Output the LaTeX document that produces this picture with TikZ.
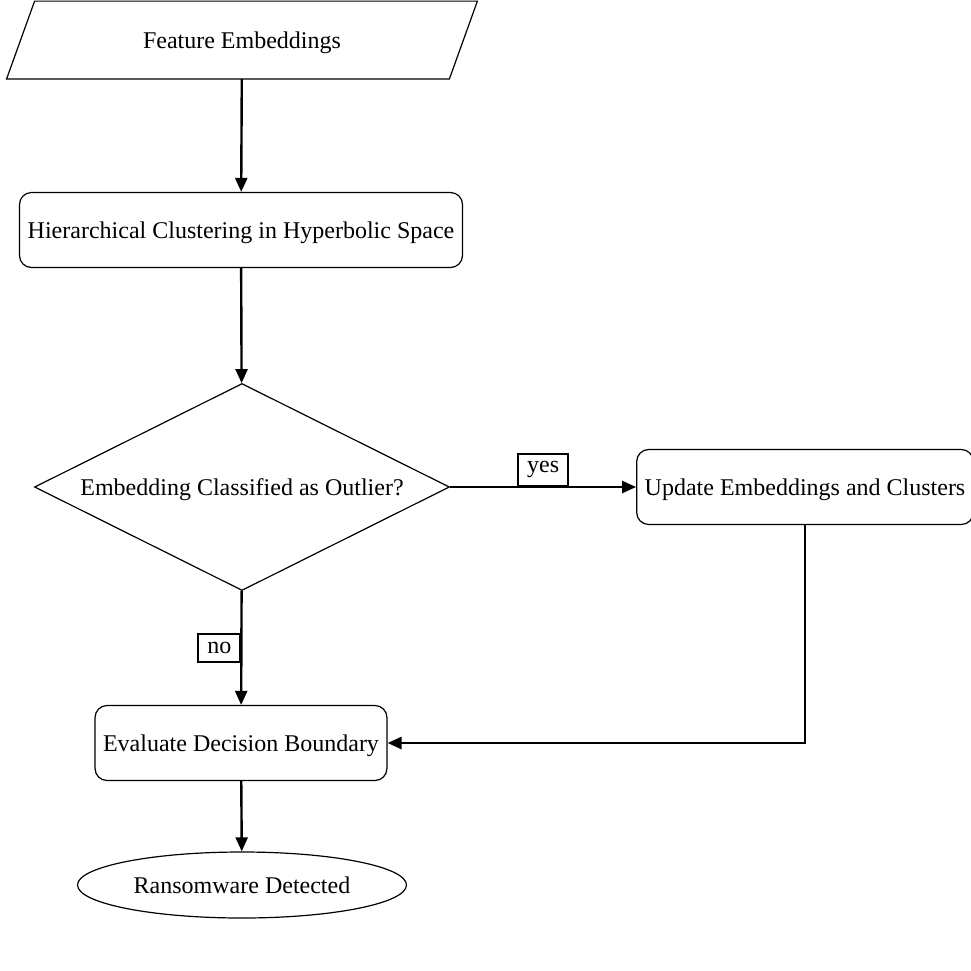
\documentclass[tikz,border=0pt]{standalone}
\usepackage{fontspec}
\setmainfont{Liberation Serif}
\usetikzlibrary{shapes.geometric, arrows.meta}

\tikzset{
    proc/.style={draw, line width=0.6pt, rounded corners=6pt, minimum height=37.5pt, text depth=0pt, align=center},
    io/.style={minimum height=38.5pt, minimum width=235pt, text depth=0pt},
    decision/.style={draw, line width=0.6pt, diamond, aspect=2, inner sep=0pt, minimum width=207.5pt, minimum height=103.5pt, text depth=0pt},
    term/.style={draw, line width=0.6pt, ellipse, minimum width=164.5pt, minimum height=33pt, text depth=0pt},
    lbl/.style={draw, line width=1pt, fill=white, inner xsep=4.5pt, inner ysep=4pt},
    flow/.style={-{Triangle[length=7pt,width=6pt]}, line width=1.2pt}
}

\begin{document}
\begin{tikzpicture}[x=0.5pt, y=-0.5pt]
        \useasboundingbox (0,0) rectangle (971,971);
        \fontsize{12}{14}\selectfont
        \node[io] (feat) at (242,40) {Feature Embeddings};
        \draw[line width=0.6pt] ([xshift=14pt]feat.north west) -- (feat.north east)
            -- ([xshift=-14pt]feat.south east) -- (feat.south west) -- cycle;
        \node[proc, minimum width=221.5pt] (clust) at (241,230) {Hierarchical Clustering in Hyperbolic Space};
        \node[decision] (outl) at (242,487) {Embedding Classified as Outlier?};
        \node[proc, minimum width=165pt] (upd) at (805,487) {Update Embeddings and Clusters};
        \node[proc, minimum width=145pt] (eval) at (241,743) {Evaluate Decision Boundary};
        \node[term] (det) at (242,885) {Ransomware Detected};
        \draw[flow] (feat) -- (clust);
        \draw[flow] (clust) -- (outl);
        \draw[flow] (outl) -- node[lbl, above=0pt] {yes} (upd);
        \draw[flow] (outl) -- node[lbl, left=0pt] {no} (eval);
        \draw[flow] (upd.south) |- (eval.east);
        \draw[flow] (eval) -- (det);
    \end{tikzpicture}
\end{document}
